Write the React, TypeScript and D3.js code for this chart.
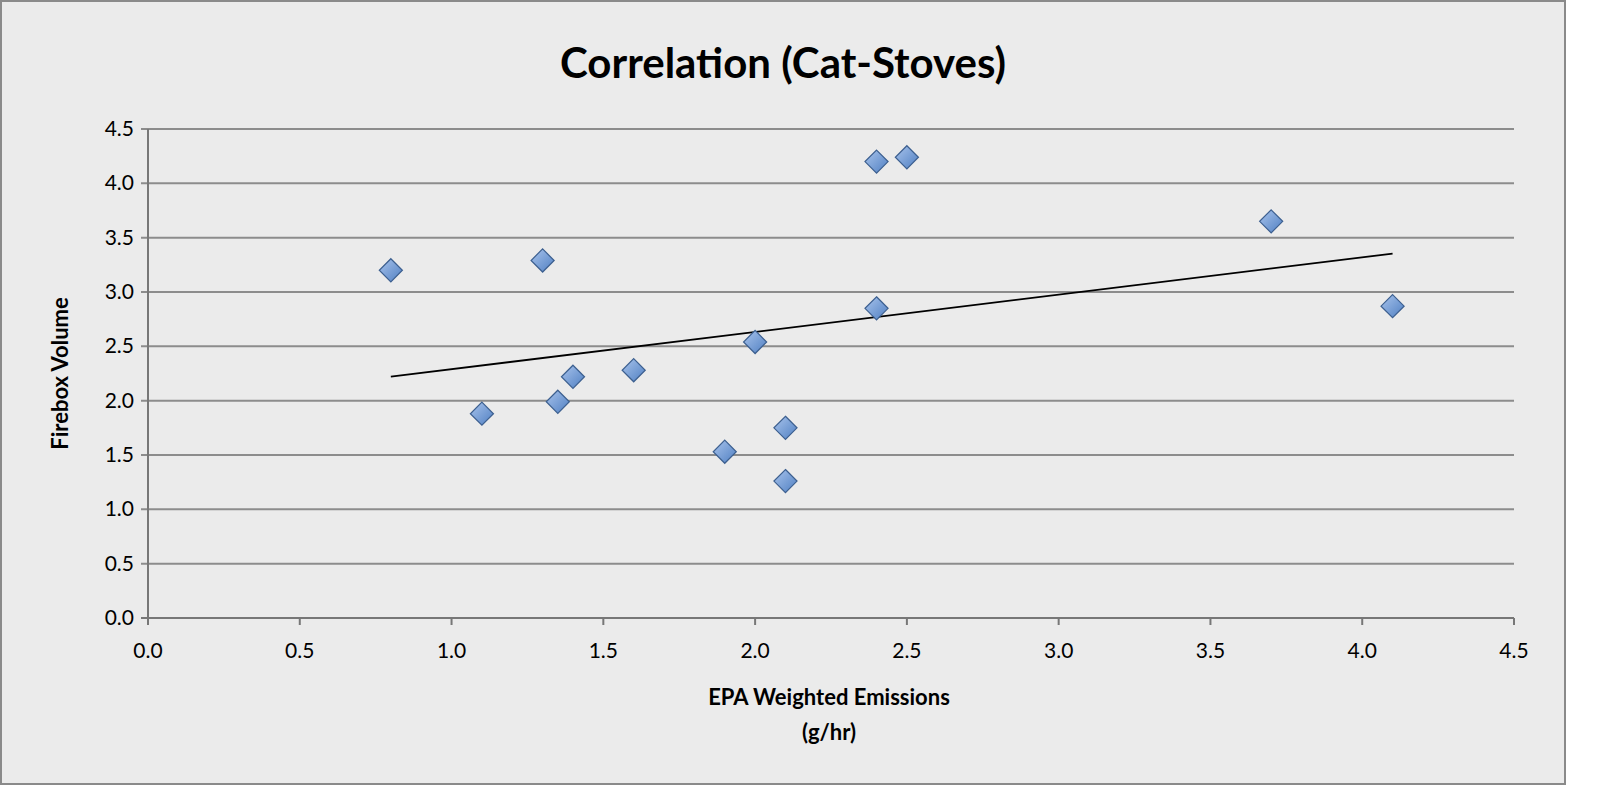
import * as React from "react";
import * as d3 from "d3";

const emissions = [0.8, 1.1, 1.3, 1.35, 1.4, 1.6, 1.9, 2.0, 2.1, 2.1, 2.4, 2.5, 2.4, 3.7, 4.1];
const volume = [3.2, 1.88, 3.29, 1.99, 2.22, 2.28, 1.53, 2.54, 1.75, 1.26, 4.2, 4.24, 2.85, 3.65, 2.87];
const ticks = [0, 0.5, 1, 1.5, 2, 2.5, 3, 3.5, 4, 4.5];

const W = 1600;
const H = 802;
const left = 148, right = 1514, top = 129, bottom = 618;
const font = "Lato, 'Open Sans', sans-serif";

export default function App() {
  const x = d3.scaleLinear().domain([0, 4.5]).range([left, right]);
  const y = d3.scaleLinear().domain([0, 4.5]).range([bottom, top]);

  // least-squares trendline
  const mx = d3.mean(emissions)!;
  const my = d3.mean(volume)!;
  const slope =
    d3.sum(emissions, (v, i) => (v - mx) * (volume[i] - my)) /
    d3.sum(emissions, (v) => (v - mx) ** 2);
  const icpt = my - slope * mx;
  const [x0, x1] = d3.extent(emissions) as [number, number];

  const diamond = d3.symbol().type(d3.symbolDiamond2).size(340)()!;

  return (
    <div style={{ position: "absolute", left: 0, top: 0 }}>
      <svg width={W} height={H} style={{ display: "block", background: "#fff" }}>
        <defs>
          <linearGradient id="mk" x1="0" y1="0" x2="1" y2="1">
            <stop offset="0" stopColor="#a9c4ec" />
            <stop offset="1" stopColor="#4f7fc2" />
          </linearGradient>
        </defs>
        <rect x={1} y={1} width={1564} height={783} fill="#ebebeb" stroke="#8a8a8a" strokeWidth={2} />
        <text x={783} y={78} textAnchor="middle" fontFamily={font} fontWeight="bold" fontSize={42} fill="#000">
          Correlation (Cat-Stoves)
        </text>
        {ticks.map((t) => (
          <g key={"y" + t}>
            <line x1={left - 7} x2={right} y1={y(t)} y2={y(t)} stroke={t === 0 ? "#777" : "#8c8c8c"} strokeWidth={2} />
            <text x={left - 14} y={y(t) + 7} textAnchor="end" fontFamily={font} fontSize={21} fill="#000">
              {t.toFixed(1)}
            </text>
          </g>
        ))}
        <line x1={left} x2={left} y1={top} y2={bottom} stroke="#777" strokeWidth={2} />
        {ticks.map((t) => (
          <g key={"x" + t}>
            <line x1={x(t)} x2={x(t)} y1={bottom} y2={bottom + 7} stroke="#777" strokeWidth={2} />
            <text x={x(t)} y={bottom + 40} textAnchor="middle" fontFamily={font} fontSize={21} fill="#000">
              {t.toFixed(1)}
            </text>
          </g>
        ))}
        <line
          x1={x(x0)} y1={y(icpt + slope * x0)} x2={x(x1)} y2={y(icpt + slope * x1)}
          stroke="#000" strokeWidth={1.8}
        />
        {emissions.map((e, i) => (
          <path
            key={i}
            d={diamond}
            transform={`translate(${x(e)},${y(volume[i])})`}
            fill="url(#mk)"
            stroke="#3c5f8f"
            strokeWidth={1.2}
          />
        ))}
        <text
          transform={`translate(68,${(top + bottom) / 2}) rotate(-90)`}
          textAnchor="middle" fontFamily={font} fontWeight="bold" fontSize={22} fill="#000"
        >
          Firebox Volume
        </text>
        <text x={829} y={705} textAnchor="middle" fontFamily={font} fontWeight="bold" fontSize={22} fill="#000">
          EPA Weighted Emissions
        </text>
        <text x={829} y={740} textAnchor="middle" fontFamily={font} fontWeight="bold" fontSize={22} fill="#000">
          (g/hr)
        </text>
      </svg>
    </div>
  );
}
